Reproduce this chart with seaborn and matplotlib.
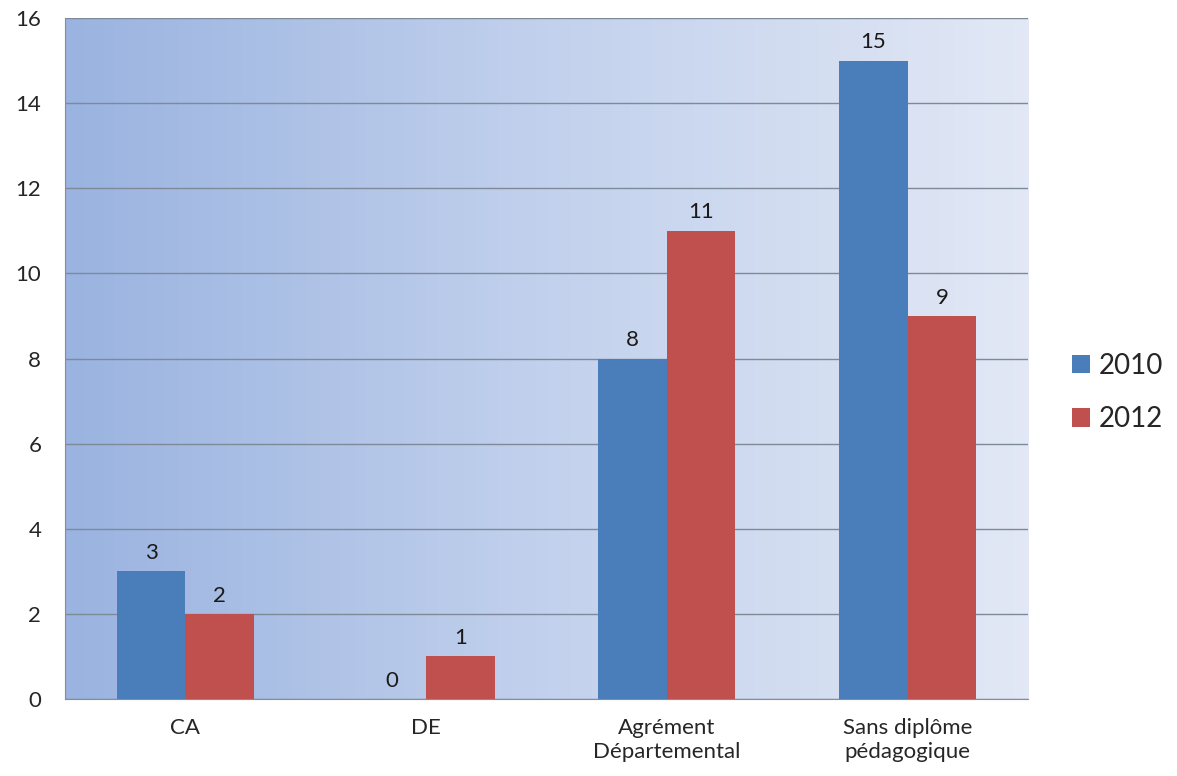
import numpy as np
import pandas as pd
import matplotlib
matplotlib.use("Agg")
import matplotlib.pyplot as plt
import seaborn as sns
from matplotlib.colors import LinearSegmentedColormap

# Données
categories = ["CA", "DE", "Agrément\nDépartemental", "Sans diplôme\npédagogique"]
annees = ["2010", "2012"]
valeurs_2010 = [3, 0, 8, 15]
valeurs_2012 = [2, 1, 11, 9]

df = pd.DataFrame({
    "categorie": categories * 2,
    "annee": [annees[0]] * 4 + [annees[1]] * 4,
    "valeur": valeurs_2010 + valeurs_2012,
})

sns.set_style("white")
plt.rcParams["font.family"] = ["Lato", "DejaVu Sans"]

fig = plt.figure(figsize=(11.77, 7.76), dpi=100)
ax = fig.add_axes([0.0552, 0.0992, 0.8182, 0.8776])

# fond dégradé bleu
cmap = LinearSegmentedColormap.from_list("fond", ["#9ab3e0", "#c2d1ed", "#e2e8f5"])
grad = np.linspace(0, 1, 256).reshape(1, -1)
ax.imshow(grad, aspect="auto", cmap=cmap, extent=[-0.5, 3.5, 0, 16], zorder=0)

sns.barplot(
    data=df, x="categorie", y="valeur", hue="annee",
    palette=["#4a7ebb", "#c0504d"], width=0.57, saturation=1,
    edgecolor="none", linewidth=0, ax=ax, zorder=3
)

for cont in ax.containers:
    ax.bar_label(cont, fontsize=16, padding=6, color="#1a1a1a")

ax.set_xlim(-0.5, 3.5)
ax.set_ylim(0, 16)
ax.set_yticks(range(0, 17, 2))
ax.grid(axis="y", color="#7f8a99", linewidth=1)
for line in ax.get_ygridlines():
    line.set_zorder(1)

ax.set_xlabel("")
ax.set_ylabel("")
ax.tick_params(axis="x", length=0, labelsize=16, pad=14)
ax.tick_params(axis="y", length=5, direction="out", labelsize=16, color="#888888", pad=12)
ax.set_xticks([-0.5, 0.5, 1.5, 2.5, 3.5], minor=True)
ax.tick_params(axis="x", which="minor", length=6, direction="out", color="#888888")

for s in ["top", "right"]:
    ax.spines[s].set_visible(False)
for s in ["left", "bottom"]:
    ax.spines[s].set_color("#8c8c8c")

ax.legend(
    loc="center left", bbox_to_anchor=(1.02, 0.45), frameon=False,
    fontsize=20, handlelength=0.65, handleheight=0.65, handletextpad=0.3,
    labelspacing=1.0
)

fig.savefig("out.png", dpi=100)
